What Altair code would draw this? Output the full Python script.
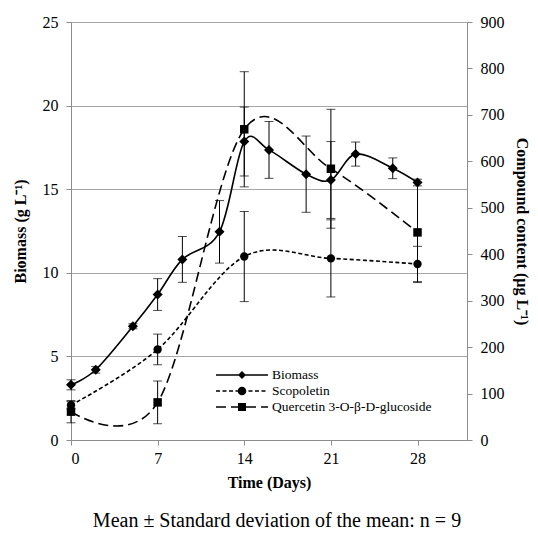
import altair as alt
import pandas as pd

# ---------------- data ----------------
bio_days = [0, 2, 5, 7, 9, 12, 14, 16, 19, 21, 23, 26, 28]
bio_mean = [3.3, 4.2, 6.8, 8.7, 10.8, 12.45, 17.85, 17.35, 15.9, 15.55, 17.1, 16.25, 15.4]
bio_sd = [0.3, 0.2, 0.15, 0.95, 1.37, 1.87, 2.06, 1.7, 2.28, 2.3, 0.72, 0.62, 0.2]

comp_days = [0, 7, 14, 21, 28]
scop_mean = [75, 195, 395, 391, 379]
scop_sd = [8, 33, 97, 83, 38]
quer_mean = [61, 81, 669, 584, 447]
quer_sd = [24, 46, 124, 128, 108]

series_names = ["Biomass", "Scopoletin", "Quercetin 3-O-β-D-glucoside"]
x_ticks = [0, 7, 14, 21, 28]
bio_ticks = [0, 5, 10, 15, 20, 25]
comp_ticks = [0, 100, 200, 300, 400, 500, 600, 700, 800, 900]

FONT = "Liberation Serif"


def frame(days, mean, sd, name):
    return pd.DataFrame({
        "day": days,
        "value": mean,
        "lo": [m - s for m, s in zip(mean, sd)],
        "hi": [m + s for m, s in zip(mean, sd)],
        "series": name,
    })


bio_df = frame(bio_days, bio_mean, bio_sd, series_names[0])
scop_df = frame(comp_days, scop_mean, scop_sd, series_names[1])
quer_df = frame(comp_days, quer_mean, quer_sd, series_names[2])

# ---------------- legend symbols (line + marker as filled custom paths) ----------------
SYM_W = 52.0            # legend sample width in px
K = SYM_W / 6.0         # px per path unit (path spans -3..3)
SYM_SIZE = (2 * K) ** 2
HALF_T = 0.8            # half line thickness, px


def u(v):
    return f"{v / K:.4f}"


def seg(a, b):
    return f"M{u(a)},{u(-HALF_T)}H{u(b)}V{u(HALF_T)}H{u(a)}Z"


def dashed(d, g):
    out = []
    x = -SYM_W / 2
    while x < SYM_W / 2:
        out.append(seg(x, min(x + d, SYM_W / 2)))
        x += d + g
    return "".join(out)


def diamond(h):
    return f"M0,{u(-h)}L{u(h)},0L0,{u(h)}L{u(-h)},0Z"


def circle(rr):
    return f"M{u(rr)},0A{u(rr)},{u(rr)},0,1,1,{u(-rr)},0A{u(rr)},{u(rr)},0,1,1,{u(rr)},0Z"


def square(h):
    return f"M{u(-h)},{u(-h)}H{u(h)}V{u(h)}H{u(-h)}Z"


legend_paths = [
    seg(-SYM_W / 2, SYM_W / 2) + diamond(4.0),
    dashed(4, 2.5) + circle(4.3),
    dashed(10, 5) + square(4.0),
]

leg_df = pd.DataFrame({"day": [bio_days[0]] * 3, "value": [bio_mean[0]] * 3, "series": series_names})

# ---------------- encodings ----------------
x_enc = alt.X("day:Q", scale=alt.Scale(domain=[0, 32], nice=False),
              axis=alt.Axis(values=x_ticks, grid=False, title="Time (Days)", titlePadding=8, labelPadding=5))

bio_axis = alt.Axis(values=bio_ticks, grid=True, title="Biomass (g L⁻¹)", titlePadding=14,
                    labelPadding=8)
bio_scale = alt.Scale(domain=[0, 25], nice=False)
comp_axis = alt.Axis(values=comp_ticks, grid=False, orient="right", title="Compound content (µg L⁻¹)",
                     titlePadding=9, labelPadding=8)
comp_scale = alt.Scale(domain=[0, 900], nice=False)


def err_layers(df, scale, axis):
    base = alt.Chart(df)
    rule = base.mark_rule(color="black", strokeWidth=1).encode(
        x=x_enc, y=alt.Y("lo:Q", scale=scale, axis=axis), y2="hi:Q")
    cap_lo = base.mark_tick(color="black", size=9, thickness=1, orient="horizontal").encode(
        x=x_enc, y=alt.Y("lo:Q", scale=scale, axis=axis))
    cap_hi = base.mark_tick(color="black", size=9, thickness=1, orient="horizontal").encode(
        x=x_enc, y=alt.Y("hi:Q", scale=scale, axis=axis))
    return [rule, cap_lo, cap_hi]


def line_layer(df, scale, axis, dash=None):
    kw = dict(color="black", strokeWidth=1.6, interpolate="cardinal")
    if dash:
        kw["strokeDash"] = dash
    return alt.Chart(df).mark_line(**kw).encode(x=x_enc, y=alt.Y("value:Q", scale=scale, axis=axis))


def point_layer(df, scale, axis, shape, size):
    return alt.Chart(df).mark_point(shape=shape, filled=True, color="black", size=size, opacity=1).encode(
        x=x_enc, y=alt.Y("value:Q", scale=scale, axis=axis))


legend_layer = alt.Chart(leg_df).mark_point(
    opacity=0, filled=True, color="black"
).encode(
    x=x_enc,
    y=alt.Y("value:Q", scale=bio_scale, axis=bio_axis),
    shape=alt.Shape("series:N", sort=series_names,
                    scale=alt.Scale(domain=series_names, range=legend_paths),
                    legend=alt.Legend(orient="none", legendX=162, legendY=344, title=None,
                                      symbolSize=SYM_SIZE, symbolOpacity=1,
                                      symbolFillColor="black", symbolStrokeColor="black",
                                      symbolStrokeWidth=0, symbolOffset=0,
                                      labelFont=FONT, labelFontSize=13.5, labelColor="black",
                                      labelOffset=21, labelLimit=300,
                                      rowPadding=0, padding=0)),
)

bio_layer = alt.layer(
    *err_layers(bio_df, bio_scale, bio_axis),
    line_layer(bio_df, bio_scale, bio_axis),
    point_layer(bio_df, bio_scale, bio_axis, "diamond", 100),
    legend_layer,
)

comp_layer = alt.layer(
    *err_layers(scop_df, comp_scale, comp_axis),
    *err_layers(quer_df, comp_scale, comp_axis),
    line_layer(scop_df, comp_scale, comp_axis, [4, 2.5]),
    line_layer(quer_df, comp_scale, comp_axis, [10, 5]),
    point_layer(scop_df, comp_scale, comp_axis, "circle", 70),
    point_layer(quer_df, comp_scale, comp_axis, "square", 72),
)

chart = alt.layer(bio_layer, comp_layer).resolve_scale(y="independent").properties(
    width=396,
    height=418,
    autosize=alt.AutoSizeParams(type="none"),
    padding={"left": 63, "top": 14, "right": 63, "bottom": 91},
    title=alt.TitleParams(text="Mean ± Standard deviation of the mean: n = 9", orient="bottom",
                          anchor="middle", font=FONT, fontSize=20, fontWeight="normal",
                          color="black", offset=21, dx=8),
).configure_view(stroke=None).configure_axis(
    labelFont=FONT, labelFontSize=16, labelColor="black",
    titleFont=FONT, titleFontSize=16, titleFontWeight="bold", titleColor="black",
    domainColor="#8c8c8c", tickColor="#8c8c8c", gridColor="#a6a6a6", tickSize=5,
    domainWidth=1, tickWidth=1, gridWidth=1,
)

chart.save("out.html", embed_options={"renderer": "svg", "actions": False})
